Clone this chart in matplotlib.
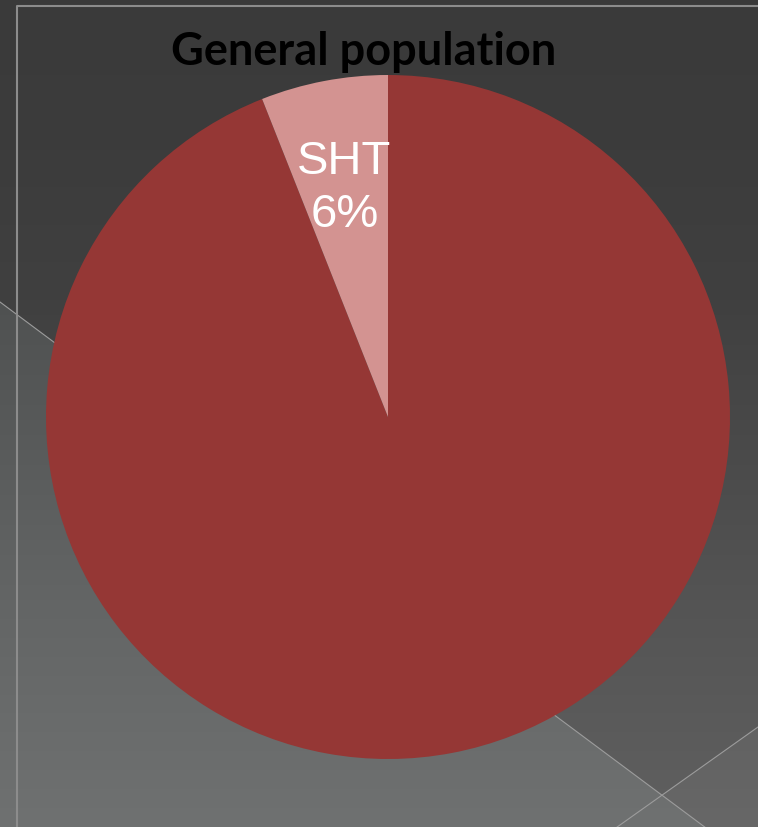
import matplotlib.pyplot as plt
import numpy as np

W, H = 758, 827

categories = ["Other", "SHT"]
shares = [94, 6]
colors = ["#953735", "#D39391"]
title = "General population"

# background shading (grey levels by height)
stop_y = [0, 150, 300, 450, 600, 827]
stop_v = [0x3a, 0x3c, 0x40, 0x4a, 0x54, 0x60]

fig = plt.figure(figsize=(W / 100, H / 100), dpi=100)
bg = fig.add_axes([0, 0, 1, 1])
bg.set_xlim(0, W)
bg.set_ylim(H, 0)
bg.axis("off")

yy, xx = np.mgrid[0:H, 0:W] + 0.5
base = np.interp(yy, stop_y, stop_v) / 255.0
img = np.dstack([base, base, base])

def line1(x):
    return 302 + 0.745 * x

def line2(x):
    return 727 - 0.71 * (x - 758)

below1 = yy > line1(xx)
below2 = yy > line2(xx)
img[below1 & ~below2] += np.array([0x0f, 0x11, 0x11]) / 255.0
img[below1 & below2] += np.array([0x0f, 0x11, 0x11]) / 255.0
img[~below1 & below2] += 0x07 / 255.0
bg.imshow(np.clip(img, 0, 1), extent=(0, W, H, 0), interpolation="bilinear")

xs = np.array([0, W])
bg.plot(xs, line1(xs), color="#9c9c9c", lw=0.8)
bg.plot(xs, line2(xs), color="#9c9c9c", lw=0.8)
bg.plot([17, 17, W + 5], [H + 5, 6, 6], color="#8c8c8c", lw=1.5)
bg.set_xlim(0, W)
bg.set_ylim(H, 0)

cx, cy, r = 388, 417, 342
ax = fig.add_axes([(cx - r) / W, (H - cy - r) / H, 2 * r / W, 2 * r / H])
labels = ["" if c == "Other" else f"{c}\n{v}%" for c, v in zip(categories, shares)]
ax.pie(shares, colors=colors, startangle=90, counterclock=False,
       labels=labels, labeldistance=0.68,
       textprops={"ha": "center", "va": "center", "color": "white",
                  "fontsize": 34, "family": "Liberation Sans",
                  "linespacing": 1.25})
ax.set_xlim(-1, 1)
ax.set_ylim(-1, 1)
ax.axis("off")

fig.text(364 / W, 1 - 65 / H, title, ha="center", va="baseline",
         fontsize=32.5, fontweight="bold", family="Lato", color="black")

fig.savefig("out.png", dpi=100)
